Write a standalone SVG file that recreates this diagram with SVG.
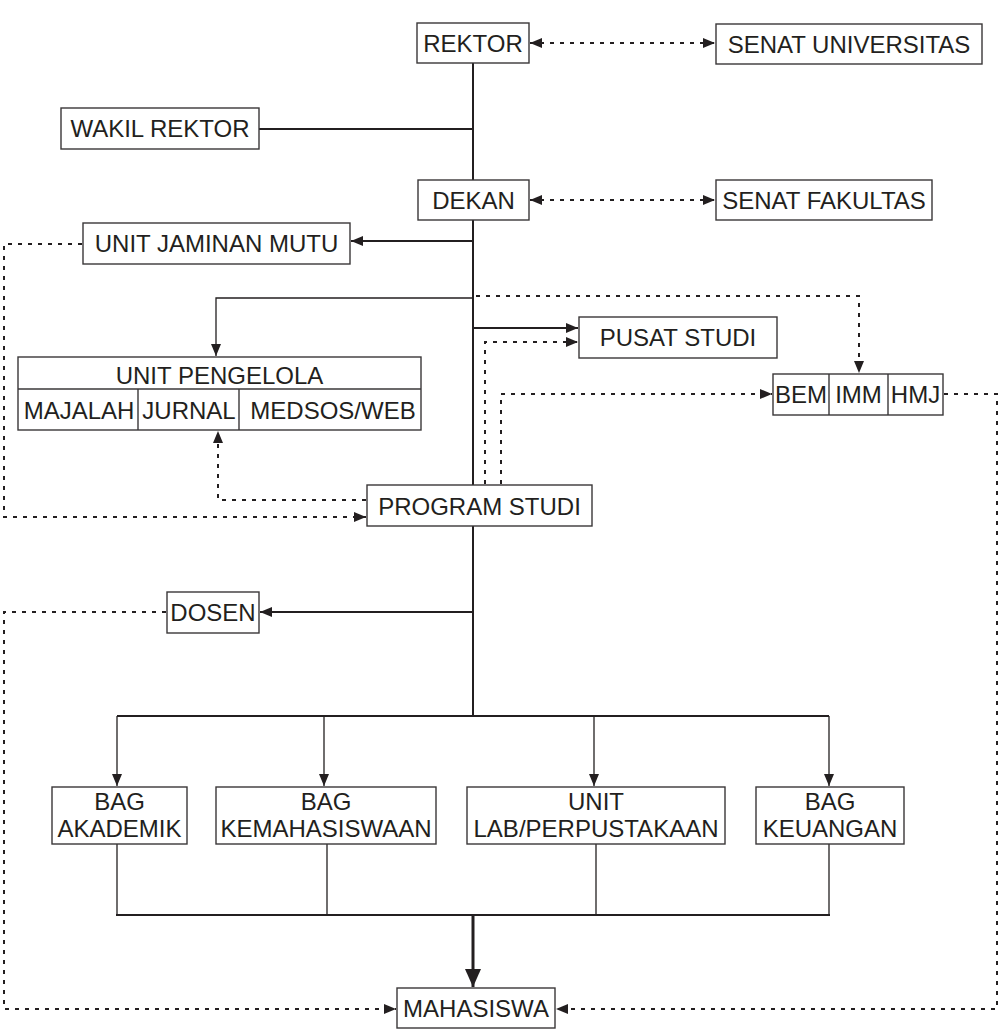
<svg xmlns="http://www.w3.org/2000/svg" width="1000" height="1030" viewBox="0 0 1000 1030">
<style>
.box{fill:#fff;stroke:#3a3738;stroke-width:1.4}
.div{stroke:#3a3738;stroke-width:1.4;fill:none}
text{font-family:"Liberation Sans",Arial,sans-serif;font-size:24px;fill:#231f20;text-anchor:middle}
.solid{stroke:#231f20;stroke-width:2;fill:none}
.thin{stroke:#231f20;stroke-width:1.3;fill:none}
.thick{stroke:#231f20;stroke-width:3;fill:none}
.dot{stroke:#231f20;stroke-width:2;fill:none;stroke-dasharray:4 6}
</style>
<defs>
<marker id="ah" viewBox="0 0 12 10" refX="12" refY="5" markerWidth="12" markerHeight="10" markerUnits="userSpaceOnUse" orient="auto-start-reverse"><path d="M0,0 L12,5 L0,10 Z" fill="#231f20"/></marker>
<marker id="ahBig" viewBox="0 0 18 16" refX="18" refY="8" markerWidth="18" markerHeight="16" markerUnits="userSpaceOnUse" orient="auto"><path d="M0,0 L18,8 L0,16 Z" fill="#231f20"/></marker>
</defs>

<g id="connectors">
<line class="solid" x1="473" y1="63" x2="473" y2="180"/>
<line class="solid" x1="473" y1="220" x2="473" y2="485"/>
<line class="solid" x1="473" y1="526" x2="473" y2="716"/>
<line class="dot" x1="530" y1="43" x2="715" y2="43" marker-start="url(#ah)" marker-end="url(#ah)"/>
<line class="dot" x1="530" y1="200" x2="715" y2="200" marker-start="url(#ah)" marker-end="url(#ah)"/>
<line class="solid" x1="259" y1="129" x2="473" y2="129"/>
<line class="solid" x1="473" y1="241" x2="351" y2="241" marker-end="url(#ah)"/>
<polyline class="thin" points="473,298 216,298 216,356" marker-end="url(#ah)"/>
<line class="solid" x1="473" y1="328" x2="578" y2="328" marker-end="url(#ah)"/>
<polyline class="dot" points="476,296 859,296 859,373" marker-end="url(#ah)"/>
<polyline class="dot" points="485,484 485,342 578,342" marker-end="url(#ah)"/>
<polyline class="dot" points="501,484 501,394 772,394" marker-end="url(#ah)"/>
<polyline class="dot" points="944,394 997,394 997,1009 556,1009" marker-end="url(#ah)"/>
<polyline class="dot" points="82,244 4,244 4,517 366,517" marker-end="url(#ah)"/>
<polyline class="dot" points="366,500 218,500 218,431" marker-end="url(#ah)"/>
<line class="solid" x1="473" y1="612" x2="260" y2="612" marker-end="url(#ah)"/>
<polyline class="dot" points="166,612 4,612 4,1009 396,1009" marker-end="url(#ah)"/>
<line class="solid" x1="117" y1="716" x2="829" y2="716"/>
<line class="thin" x1="117" y1="716" x2="117" y2="786" marker-end="url(#ah)"/>
<line class="thin" x1="324" y1="716" x2="324" y2="786" marker-end="url(#ah)"/>
<line class="thin" x1="594" y1="716" x2="594" y2="786" marker-end="url(#ah)"/>
<line class="thin" x1="829" y1="716" x2="829" y2="786" marker-end="url(#ah)"/>
<line class="thin" x1="117" y1="844" x2="117" y2="915"/>
<line class="thin" x1="327" y1="844" x2="327" y2="915"/>
<line class="thin" x1="596" y1="844" x2="596" y2="915"/>
<line class="thin" x1="829" y1="844" x2="829" y2="915"/>
<line class="solid" x1="116" y1="915" x2="830" y2="915"/>
<line class="thick" x1="473" y1="915" x2="473" y2="987" marker-end="url(#ahBig)"/>
</g>

<g id="rektor"><rect class="box" x="417" y="23" width="112" height="40"/><text x="473" y="52">REKTOR</text></g>
<g id="senat-universitas"><rect class="box" x="716" y="24" width="266" height="40"/><text x="849" y="53">SENAT UNIVERSITAS</text></g>
<g id="wakil-rektor"><rect class="box" x="61" y="108" width="198" height="41"/><text x="160" y="137">WAKIL REKTOR</text></g>
<g id="dekan"><rect class="box" x="418" y="180" width="111" height="40"/><text x="473.5" y="209">DEKAN</text></g>
<g id="senat-fakultas"><rect class="box" x="716" y="180" width="216" height="40"/><text x="824" y="209">SENAT FAKULTAS</text></g>
<g id="unit-jaminan-mutu"><rect class="box" x="83" y="223" width="267" height="41"/><text x="216.5" y="252">UNIT JAMINAN MUTU</text></g>
<g id="unit-pengelola">
<rect class="box" x="18" y="357" width="403" height="73"/>
<line class="div" x1="18" y1="389" x2="421" y2="389"/>
<line class="div" x1="138" y1="389" x2="138" y2="430"/>
<line class="div" x1="239" y1="389" x2="239" y2="430"/>
<text x="219.5" y="384">UNIT PENGELOLA</text>
<text x="79" y="419">MAJALAH</text>
<text x="189" y="419">JURNAL</text>
<text x="333" y="419">MEDSOS/WEB</text>
</g>
<g id="pusat-studi"><rect class="box" x="579" y="317" width="198" height="41"/><text x="678" y="346">PUSAT STUDI</text></g>
<g id="bem-imm-hmj">
<rect class="box" x="773" y="374" width="170" height="41"/>
<line class="div" x1="829" y1="374" x2="829" y2="415"/>
<line class="div" x1="888" y1="374" x2="888" y2="415"/>
<text x="801" y="403">BEM</text>
<text x="858.5" y="403">IMM</text>
<text x="915.5" y="403">HMJ</text>
</g>
<g id="program-studi"><rect class="box" x="367" y="485" width="225" height="41"/><text x="479.5" y="515">PROGRAM STUDI</text></g>
<g id="dosen"><rect class="box" x="167" y="592" width="92" height="41"/><text x="213" y="621">DOSEN</text></g>
<g id="bag-akademik"><rect class="box" x="52" y="787" width="135" height="57"/><text x="119.5" y="810">BAG</text><text x="119.5" y="837">AKADEMIK</text></g>
<g id="bag-kemahasiswaan"><rect class="box" x="216" y="787" width="220" height="57"/><text x="326" y="810">BAG</text><text x="326" y="837">KEMAHASISWAAN</text></g>
<g id="unit-lab"><rect class="box" x="467" y="787" width="258" height="57"/><text x="596" y="810">UNIT</text><text x="596" y="837">LAB/PERPUSTAKAAN</text></g>
<g id="bag-keuangan"><rect class="box" x="756" y="787" width="148" height="57"/><text x="830" y="810">BAG</text><text x="830" y="837">KEUANGAN</text></g>
<g id="mahasiswa"><rect class="box" x="397" y="988" width="158" height="40"/><text x="476" y="1017">MAHASISWA</text></g>
</svg>
